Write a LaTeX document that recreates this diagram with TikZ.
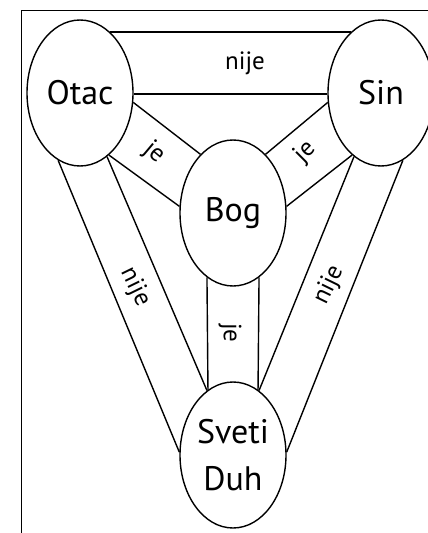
\documentclass[tikz,border=0pt]{standalone}
\usepackage{fontspec}
\setmainfont{PT Sans}
\usetikzlibrary{shapes.geometric}

\begin{document}
\begin{tikzpicture}[x=1pt, y=-1pt,
  person/.style = {shape=ellipse, draw, line width=1.4pt,
    minimum width=106pt, minimum height=146pt, inner sep=0pt,
    align=center, font=\fontsize{34}{47}\selectfont},
  band/.style = {line width=1.4pt},
  word/.style = {font=\fontsize{25}{28}\selectfont, inner sep=0pt}]
  \useasboundingbox (0,0) rectangle (428,533);
  \draw[line width=1pt] (21,533) -- (21,10) -- (428,10);

  \node[person] (otac) at (80,93) {Otac};
  \node[person] (sin) at (381,93) {Sin};
  \node[person] (bog) at (233,213) {Bog};
  \node[person] (duh) at (233,455) {Sveti\\Duh};

  % otac -- sin
  \draw[band, line width=2.4pt] (otac.64) -- (sin.116);
  \draw[band] (otac.-1) -- (sin.181);
  \node[word] (nije1) at (245,63) {nije};

  % bog u sredini
  \draw[band] (otac.-10) -- (bog.119);
  \draw[band] (otac.-65) -- (bog.173);
  \draw[band] (sin.190) -- (bog.61);
  \draw[band] (sin.245) -- (bog.7);
  \draw[band] (bog.248) -- (duh.111);
  \draw[band] (bog.292) -- (duh.69);
  \node[word, rotate=-40] (je1) at (154,153) {je};
  \node[word, rotate=45] (je2) at (305,152) {je};
  \node[word, rotate=-90] (je3) at (230,333) {je};

  % prema duhu
  \draw[band] (otac.252) -- (duh.177);
  \draw[band] (otac.-67) -- (duh.112);
  \draw[band] (sin.288) -- (duh.3);
  \draw[band] (sin.247) -- (duh.68);
  \node[word, rotate=-64] (nije2) at (135,287) {nije};
  \node[word, rotate=64] (nije3) at (329,285) {nije};
\end{tikzpicture}
\end{document}
